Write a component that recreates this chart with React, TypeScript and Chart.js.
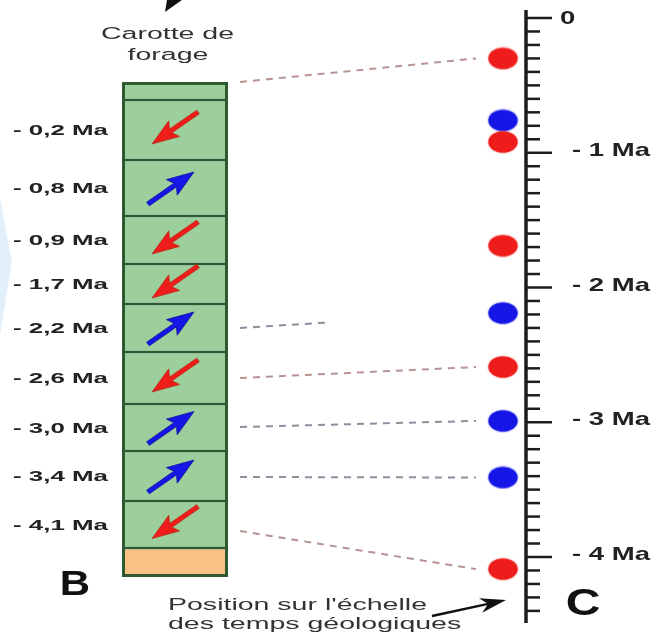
import { useEffect, useRef } from 'react';
import { Chart, registerables } from 'chart.js';

Chart.register(...registerables);

// ---------------- data ----------------
// core segment limits (core depth, arbitrary units from the top of the core)
const coreBoundaries = [0, 18, 78, 134, 182, 222, 270, 322, 369, 419, 466, 495];
// R = reversed (red arrow), N = normal (blue arrow)
const corePolarity = ['none', 'R', 'N', 'R', 'R', 'N', 'R', 'N', 'N', 'R', 'base'];
const coreLabels = ['', '- 0,2 Ma', '- 0,8 Ma', '- 0,9 Ma', '- 1,7 Ma', '- 2,2 Ma', '- 2,6 Ma', '- 3,0 Ma', '- 3,4 Ma', '- 4,1 Ma', ''];
// dots on the geological time scale (Ma)
const dotAges = [0.3, 0.76, 0.92, 1.69, 2.19, 2.59, 2.99, 3.41, 4.09];
const dotPolarity = ['R', 'N', 'R', 'R', 'N', 'R', 'N', 'N', 'R'];
// dashed links: core depth -> dot index (reach = fraction of the way drawn)
const linkDepths = [0, 246, 296, 345, 395, 449];
const linkDots = [0, 4, 5, 6, 7, 8];
const linkReach = [1, 0.37, 1, 1, 1, 1];
// time scale ruler
const scaleMajor = [0, 1, 2, 3, 4];
const scaleMajorLabels = ['0', '- 1 Ma', '- 2 Ma', '- 3 Ma', '- 4 Ma'];
const scaleMinorCount = 44; // minor ticks every 0.1 Ma from 0 to 4.4
const scaleMinorStep = 0.1;
const scaleStart = -0.06;
const scaleEnd = 4.49;

// ---------------- layout ----------------
const W = 656;
const H = 641;
const CORE_X = 175;
const CORE_W = 106;
const DOT_X = 503;
const AXIS_X = 526;
const AGE_MIN = -0.1336;
const AGE_MAX = 4.6234;
const DEPTH_MIN = -82;
const DEPTH_MAX = 559;
const FONT = '"Liberation Sans", Arial, sans-serif';

const RED = '#ee1c1a';
const BLUE = '#1616e6';
const GREEN = '#9ccf9c';
const ORANGE = '#f9c184';
const CORE_LINE = '#2d5a30';
const TEXT = '#222222';

function makeDot(color: string) {
  const c = document.createElement('canvas');
  c.width = 32;
  c.height = 24;
  const g = c.getContext('2d')!;
  g.fillStyle = color;
  g.shadowColor = color;
  g.shadowBlur = 2;
  g.beginPath();
  g.ellipse(16, 12, 14.5, 10.5, 0, 0, Math.PI * 2);
  g.fill();
  return c;
}

function drawArrow(
  ctx: CanvasRenderingContext2D,
  x0: number, y0: number, x1: number, y1: number,
  color: string, edge: string | null, shaftW: number, headLen: number, headW: number,
  notch = 0.85,
) {
  const dx = x1 - x0;
  const dy = y1 - y0;
  const L = Math.hypot(dx, dy);
  const ux = dx / L;
  const uy = dy / L;
  const px = -uy;
  const py = ux;
  const bx = x1 - ux * headLen;
  const by = y1 - uy * headLen;
  const nx = x1 - ux * headLen * notch;
  const ny = y1 - uy * headLen * notch;
  ctx.beginPath();
  ctx.moveTo(x0 + px * shaftW / 2, y0 + py * shaftW / 2);
  ctx.lineTo(nx + px * shaftW / 2, ny + py * shaftW / 2);
  ctx.lineTo(bx + px * headW / 2, by + py * headW / 2);
  ctx.lineTo(x1, y1);
  ctx.lineTo(bx - px * headW / 2, by - py * headW / 2);
  ctx.lineTo(nx - px * shaftW / 2, ny - py * shaftW / 2);
  ctx.lineTo(x0 - px * shaftW / 2, y0 - py * shaftW / 2);
  ctx.closePath();
  ctx.fillStyle = color;
  ctx.fill();
  if (edge) {
    ctx.strokeStyle = edge;
    ctx.lineWidth = 0.8;
    ctx.stroke();
  }
}

function stretchText(
  ctx: CanvasRenderingContext2D, text: string, x: number, y: number,
  sx: number, align: CanvasTextAlign,
) {
  ctx.save();
  ctx.translate(x, y);
  ctx.scale(sx, 1);
  ctx.textAlign = align;
  ctx.fillText(text, 0, 0);
  ctx.restore();
}

const overlay = {
  id: 'overlay',
  beforeDraw(chart: any) {
    const ctx = chart.ctx as CanvasRenderingContext2D;
    ctx.save();
    ctx.fillStyle = '#ffffff';
    ctx.fillRect(0, 0, W, H);
    // faint watermark at the left edge
    ctx.fillStyle = '#e2f0fb';
    ctx.beginPath();
    ctx.moveTo(0, 198);
    ctx.lineTo(12, 262);
    ctx.lineTo(0, 335);
    ctx.closePath();
    ctx.fill();
    ctx.restore();
  },
  beforeDatasetsDraw(chart: any) {
    const ctx = chart.ctx as CanvasRenderingContext2D;
    const depth = chart.scales.depth;
    const age = chart.scales.age;
    const xs = chart.scales.x;
    const x0 = xs.getPixelForValue(CORE_X) + CORE_W / 2 + 12;
    const xEnd = xs.getPixelForValue(DOT_X) - 27;
    ctx.save();
    ctx.lineWidth = 2;
    ctx.setLineDash([7, 6]);
    linkDepths.forEach((d, i) => {
      const y0 = depth.getPixelForValue(d);
      const y1full = age.getPixelForValue(dotAges[linkDots[i]]);
      const r = linkReach[i];
      const x1 = x0 + (xEnd - x0) * r;
      const y1 = y0 + (y1full - y0) * r;
      ctx.strokeStyle = dotPolarity[linkDots[i]] === 'R' ? '#b79393' : '#8e8e9e';
      ctx.beginPath();
      ctx.moveTo(x0, y0);
      ctx.lineTo(x1, y1);
      ctx.stroke();
    });
    ctx.restore();
  },
  afterDatasetsDraw(chart: any) {
    const ctx = chart.ctx as CanvasRenderingContext2D;
    const age = chart.scales.age;
    const xs = chart.scales.x;
    const meta = chart.getDatasetMeta(0);

    // arrows inside the core + core labels
    ctx.save();
    ctx.font = `bold 15px ${FONT}`;
    const sxLeft = 95 / ctx.measureText('- 0,2 Ma').width;
    ctx.fillStyle = TEXT;
    ctx.textBaseline = 'middle';
    meta.data.forEach((bar: any, i: number) => {
      const cy = (bar.y + bar.base) / 2;
      const cx = bar.x - 1;
      const pol = corePolarity[i];
      if (pol === 'R') {
        drawArrow(ctx, cx + 24, cy - 18, cx - 22, cy + 14, RED, '#b8301c', 4.5, 27, 19);
      } else if (pol === 'N') {
        drawArrow(ctx, cx - 26, cy + 16, cx + 20, cy - 16, BLUE, '#12129a', 4.5, 27, 19);
      }
      if (coreLabels[i]) {
        ctx.fillStyle = TEXT;
        stretchText(ctx, coreLabels[i], 13, cy + 1, sxLeft, 'left');
      }
    });
    ctx.restore();

    // geological time ruler
    const ax = xs.getPixelForValue(AXIS_X);
    ctx.save();
    ctx.strokeStyle = '#1c1c1c';
    ctx.lineWidth = 3.5;
    ctx.beginPath();
    ctx.moveTo(ax, age.getPixelForValue(scaleStart));
    ctx.lineTo(ax, age.getPixelForValue(scaleEnd));
    ctx.stroke();
    ctx.lineWidth = 2.5;
    for (let i = 0; i <= scaleMinorCount; i++) {
      const v = i * scaleMinorStep;
      const y = age.getPixelForValue(v);
      const major = scaleMajor.some((m) => Math.abs(m - v) < 1e-6);
      ctx.beginPath();
      ctx.moveTo(ax, y);
      ctx.lineTo(ax + (major ? 26 : 14), y);
      ctx.stroke();
    }
    ctx.font = `bold 19px ${FONT}`;
    const sxRight = 78 / ctx.measureText('- 1 Ma').width;
    ctx.fillStyle = TEXT;
    ctx.textBaseline = 'middle';
    scaleMajor.forEach((m, i) => {
      const y = age.getPixelForValue(m);
      const lx = i === 0 ? ax + 34 : ax + 46;
      stretchText(ctx, scaleMajorLabels[i], lx, y + (i === 0 ? 1 : -2), sxRight, 'left');
    });
    ctx.restore();

    // titles and letters
    ctx.save();
    ctx.fillStyle = '#333333';
    ctx.textBaseline = 'alphabetic';
    ctx.font = `16px ${FONT}`;
    const sxReg = 259 / ctx.measureText("Position sur l'échelle").width;
    stretchText(ctx, 'Carotte de', 167.5, 39, sxReg, 'center');
    stretchText(ctx, 'forage', 168, 60, sxReg, 'center');
    stretchText(ctx, "Position sur l'échelle", 168, 610, sxReg, 'left');
    stretchText(ctx, 'des temps géologiques', 168, 629, sxReg, 'left');
    ctx.fillStyle = '#111111';
    ctx.font = `bold 35px ${FONT}`;
    stretchText(ctx, 'B', 75, 595, 1.2, 'center');
    ctx.font = `bold 37px ${FONT}`;
    stretchText(ctx, 'C', 583, 615, 1.3, 'center');
    // pointer arrows
    drawArrow(ctx, 190, -28, 165, 12, '#111111', null, 5, 24, 20);
    drawArrow(ctx, 432, 616, 506, 600, '#111111', null, 2.5, 26, 15, 0.75);
    ctx.restore();
  },
};

export default function App() {
  const ref = useRef<HTMLCanvasElement | null>(null);
  useEffect(() => {
    const canvas = ref.current;
    if (!canvas) return;
    const redDot = makeDot(RED);
    const blueDot = makeDot(BLUE);
    const segData = corePolarity.map((_, i) => ({
      x: CORE_X,
      y: [coreBoundaries[i], coreBoundaries[i + 1]],
    }));
    const last = corePolarity.length - 1;
    const chart = new Chart(canvas, {
      type: 'bar',
      data: {
        datasets: [
          {
            type: 'bar',
            label: 'Carotte de forage',
            data: segData as any,
            xAxisID: 'x',
            yAxisID: 'depth',
            backgroundColor: corePolarity.map((p) => (p === 'base' ? ORANGE : GREEN)),
            borderColor: CORE_LINE,
            borderWidth: ((c: any) => ({
              left: 3,
              right: 3,
              top: c.dataIndex === 0 ? 3 : 1.5,
              bottom: c.dataIndex === last ? 3 : 1.5,
            })) as any,
            borderSkipped: false,
            barThickness: CORE_W,
            inflateAmount: 0,
          } as any,
          {
            type: 'scatter',
            label: 'Position sur l\'échelle des temps géologiques',
            data: dotAges.map((a) => ({ x: DOT_X, y: a })),
            xAxisID: 'x',
            yAxisID: 'age',
            pointStyle: dotPolarity.map((p) => (p === 'R' ? redDot : blueDot)) as any,
            pointRadius: 15,
          } as any,
        ],
      },
      options: {
        animation: false,
        responsive: false,
        devicePixelRatio: 1,
        events: [],
        layout: { padding: 0, autoPadding: false },
        plugins: { legend: { display: false }, tooltip: { enabled: false } },
        scales: {
          x: { type: 'linear', min: 0, max: W, display: false, offset: false },
          depth: { type: 'linear', axis: 'y', min: DEPTH_MIN, max: DEPTH_MAX, reverse: true, display: false },
          age: { type: 'linear', axis: 'y', min: AGE_MIN, max: AGE_MAX, reverse: true, display: false },
        } as any,
      },
      plugins: [overlay],
    });
    return () => chart.destroy();
  }, []);
  return (
    <div style={{ position: 'fixed', left: 0, top: 0, width: W, height: H, background: '#fff' }}>
      <canvas ref={ref} width={W} height={H} style={{ display: 'block' }} />
    </div>
  );
}
